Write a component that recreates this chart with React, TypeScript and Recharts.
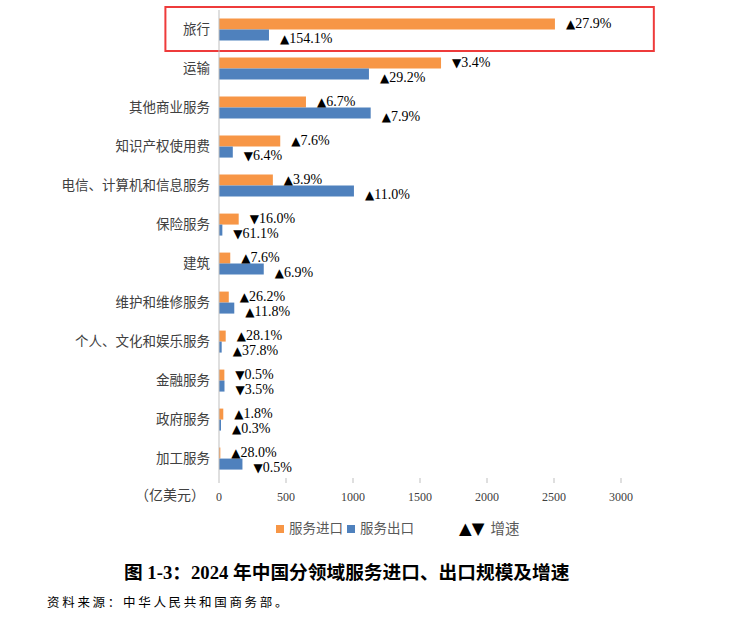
import { Bar, BarChart, LabelList, ReferenceArea, XAxis, YAxis } from "recharts";

// 2024 services trade by sector, 亿美元
const categories = [
  "旅行",
  "运输",
  "其他商业服务",
  "知识产权使用费",
  "电信、计算机和信息服务",
  "保险服务",
  "建筑",
  "维护和维修服务",
  "个人、文化和娱乐服务",
  "金融服务",
  "政府服务",
  "加工服务",
];
const imports = [2507, 1657, 649, 457, 402, 147, 84, 73, 50, 40, 32, 10];
const exports = [373, 1119, 1132, 103, 1007, 25, 334, 114, 20, 41, 15, 175];
// growth rates in %, sign picks the arrow
const importGrowth = [27.9, -3.4, 6.7, 7.6, 3.9, -16.0, 7.6, 26.2, 28.1, -0.5, 1.8, 28.0];
const exportGrowth = [154.1, 29.2, 7.9, -6.4, 11.0, -61.1, 6.9, 11.8, 37.8, -3.5, 0.3, -0.5];
const xTicks = [0, 500, 1000, 1500, 2000, 2500, 3000];
const highlighted = "旅行";

const data = categories.map((name, i) => ({
  name,
  imp: imports[i],
  exp: exports[i],
  impG: importGrowth[i],
  expG: exportGrowth[i],
}));

const ORANGE = "#F79646";
const BLUE = "#4F81BD";
const AXIS = "#BFBFBF";
const TEXT = "#404040";
const SERIF = '"Liberation Serif", "Times New Roman", "Noto Sans CJK SC", serif';
const CJK = '"Liberation Serif", "Noto Sans CJK SC", serif';

function makeLabel(key: "impG" | "expG", dy: number) {
  return (props: any) => {
    const { x, y, width, height, index } = props;
    const v = data[index][key];
    return (
      <text
        x={Number(x) + Number(width) + 11}
        y={Number(y) + Number(height) / 2 + dy}
        dominantBaseline="central"
        fontSize={14}
        fontFamily={SERIF}
        fill="#000"
      >
        <tspan fontFamily='"DejaVu Sans", sans-serif' fontSize={12}>
          {v < 0 ? "▼" : "▲"}
        </tspan>
        {`${Math.abs(v).toFixed(1)}%`}
      </text>
    );
  };
}

// Excel's highlight box sits a few px outside the category band
function HighlightBox(props: any) {
  const { x, y, width, height } = props;
  return <rect x={x} y={y - 3} width={width} height={height + 5} fill="none" stroke="#EE3B3B" strokeWidth={2} />;
}

export default function App() {
  return (
    <div style={{ position: "absolute", left: 0, top: 0, width: 730, height: 617, background: "#fff" }}>
      <BarChart
        width={730}
        height={510}
        data={data}
        layout="vertical"
        margin={{ top: 10, right: 109, bottom: 0, left: 0 }}
        barCategoryGap="22%"
        barGap={0}
      >
        <XAxis
          type="number"
          domain={[0, 3000]}
          ticks={xTicks}
          axisLine={false}
          tickLine={{ stroke: AXIS }}
          tickSize={5}
          tickMargin={9}
          height={32}
          tick={{ fontSize: 12, fill: TEXT, fontFamily: SERIF }}
        />
        <YAxis
          type="category"
          dataKey="name"
          width={219}
          axisLine={{ stroke: AXIS }}
          tickLine={false}
          tickSize={0}
          tickMargin={9}
          interval={0}
          tick={{ fontSize: 13.5, fill: TEXT, fontFamily: CJK }}
        />
        <Bar dataKey="imp" fill={ORANGE} isAnimationActive={false}>
          <LabelList dataKey="impG" content={makeLabel("impG", -0.5)} />
        </Bar>
        <Bar dataKey="exp" fill={BLUE} isAnimationActive={false}>
          <LabelList dataKey="expG" content={makeLabel("expG", 3.5)} />
        </Bar>
        <ReferenceArea
          y1={highlighted}
          y2={highlighted}
          x1={-400}
          x2={3245}
          ifOverflow="visible"
          shape={HighlightBox}
        />
      </BarChart>

      <div
        style={{
          position: "absolute",
          left: 0,
          width: 205,
          top: 487,
          textAlign: "right",
          fontSize: 14,
          fontFamily: CJK,
          color: TEXT,
          lineHeight: "18px",
        }}
      >
        （亿美元）
      </div>

      <div
        style={{
          position: "absolute",
          top: 520,
          left: 276,
          display: "flex",
          alignItems: "center",
          fontFamily: CJK,
          fontSize: 13.5,
          color: "#595959",
          lineHeight: "18px",
        }}
      >
        <span style={{ width: 8, height: 8, background: ORANGE, marginRight: 5 }} />
        <span style={{ marginRight: 4 }}>服务进口</span>
        <span style={{ width: 8, height: 8, background: BLUE, marginRight: 5 }} />
        <span style={{ marginRight: 45 }}>服务出口</span>
        <span style={{ color: "#000", fontSize: 16.5, fontFamily: '"DejaVu Sans", sans-serif', marginRight: 6 }}>▲▼</span>
        <span style={{ fontSize: 14.5 }}>增速</span>
      </div>

      <div
        style={{
          position: "absolute",
          top: 561,
          left: 124,
          fontFamily: CJK,
          fontSize: 18.7,
          fontWeight: "bold",
          color: "#000",
          lineHeight: "24px",
          whiteSpace: "nowrap",
        }}
      >
        图 1-3：2024 年中国分领域服务进口、出口规模及增速
      </div>

      <div
        style={{
          position: "absolute",
          top: 593,
          left: 47,
          fontFamily: '"Noto Sans CJK SC", sans-serif',
          fontSize: 12.5,
          letterSpacing: 2.7,
          color: "#000",
          lineHeight: "18px",
          whiteSpace: "nowrap",
        }}
      >
        资料来源：中华人民共和国商务部。
      </div>
    </div>
  );
}
